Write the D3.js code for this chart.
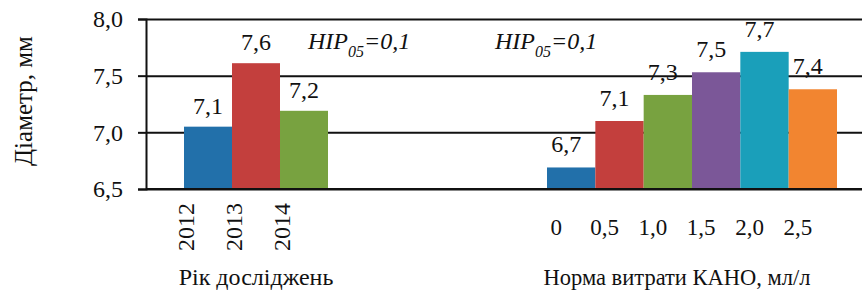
<!DOCTYPE html>
<html>
<head>
<meta charset="utf-8">
<script src="https://cdn.jsdelivr.net/npm/d3@7"></script>
</head>
<body style="margin:0; background:#fff">
<svg id="chart" width="862" height="291"></svg>
<script>
// data
const years = ["2012", "2013", "2014"];
const yearValues = [7.05, 7.61, 7.19];
const yearLabels = ["7,1", "7,6", "7,2"];

const norms = ["0", "0,5", "1,0", "1,5", "2,0", "2,5"];
const normValues = [6.69, 7.10, 7.33, 7.53, 7.71, 7.38];
const normLabels = ["6,7", "7,1", "7,3", "7,5", "7,7", "7,4"];

const yTicks = [6.5, 7.0, 7.5, 8.0];
const yearColors = ["#2270aa", "#c33f3d", "#78a240"];
const normColors = ["#2270aa", "#c33f3d", "#78a240", "#7b5798", "#1a9fba", "#f28530"];

const FONT = 'Liberation Serif';
const INK = '#111';

const svg = d3.select('#chart');
const width = +svg.attr('width');
const margin = { top: 19, right: 0, bottom: 102, left: 146 };
const plotBottom = 291 - margin.bottom;

// scales
const y = d3.scaleLinear().domain([6.5, 8.0]).range([plotBottom, margin.top]);
const xYear = d3.scaleBand().domain(years).range([184, 328]).padding(0);
const xNorm = d3.scaleBand().domain(norms).range([547, 837]).padding(0);

const fmt = d => d.toFixed(1).replace('.', ',');

// grid lines behind bars
svg.append('g')
    .attr('transform', `translate(${margin.left},0)`)
    .call(d3.axisLeft(y).tickValues(yTicks).tickSize(-(width - margin.left)).tickFormat(''))
    .call(g => g.select('.domain').remove())
    .call(g => g.selectAll('line').attr('stroke', INK).attr('stroke-width', 2));

// bars
svg.append('g').selectAll('rect').data(years)
    .join('rect')
    .attr('x', d => xYear(d))
    .attr('y', (d, i) => y(yearValues[i]))
    .attr('width', xYear.bandwidth())
    .attr('height', (d, i) => plotBottom - y(yearValues[i]))
    .attr('fill', (d, i) => yearColors[i]);

svg.append('g').selectAll('rect').data(norms)
    .join('rect')
    .attr('x', d => xNorm(d))
    .attr('y', (d, i) => y(normValues[i]))
    .attr('width', xNorm.bandwidth())
    .attr('height', (d, i) => plotBottom - y(normValues[i]))
    .attr('fill', (d, i) => normColors[i]);

// y axis
svg.append('g')
    .attr('transform', `translate(${margin.left},0)`)
    .call(d3.axisLeft(y).tickValues(yTicks).tickSize(8).tickPadding(15).tickFormat(fmt))
    .call(g => g.select('.domain').attr('stroke', INK).attr('stroke-width', 2))
    .call(g => g.selectAll('line').attr('stroke', INK).attr('stroke-width', 2))
    .call(g => g.selectAll('text').attr('font-size', 24).attr('font-family', FONT).attr('fill', INK));

// bottom line
svg.append('line')
    .attr('x1', margin.left).attr('x2', width)
    .attr('y1', plotBottom).attr('y2', plotBottom)
    .attr('stroke', INK).attr('stroke-width', 2);

// value labels
svg.append('g').selectAll('text').data(years)
    .join('text')
    .attr('x', d => xYear(d) + xYear.bandwidth() / 2)
    .attr('y', (d, i) => y(yearValues[i]) - 13)
    .attr('text-anchor', 'middle')
    .attr('font-family', FONT).attr('fill', INK)
    .attr('font-size', 24)
    .text((d, i) => yearLabels[i]);

svg.append('g').selectAll('text').data(norms)
    .join('text')
    .attr('x', d => xNorm(d) + xNorm.bandwidth() / 2 - 5)
    .attr('y', (d, i) => y(normValues[i]) - 15)
    .attr('text-anchor', 'middle')
    .attr('font-family', FONT).attr('fill', INK)
    .attr('font-size', 24)
    .text((d, i) => normLabels[i]);

// category labels
svg.append('g').selectAll('text').data(years)
    .join('text')
    .attr('transform', d => `translate(${xYear(d) + xYear.bandwidth() / 2 - 22},203) rotate(-90)`)
    .attr('text-anchor', 'end')
    .attr('dy', '0.33em')
    .attr('font-family', FONT).attr('fill', INK)
    .attr('font-size', 24)
    .text(d => d);

svg.append('g').selectAll('text').data(norms)
    .join('text')
    .attr('x', d => xNorm(d) + xNorm.bandwidth() / 2 - 15)
    .attr('y', 235)
    .attr('text-anchor', 'middle')
    .attr('font-family', FONT).attr('fill', INK)
    .attr('font-size', 23)
    .text(d => d);

// LSD notes
const hip = [[308, 49], [495, 49]];
hip.forEach(p => {
    const t = svg.append('text')
        .attr('x', p[0]).attr('y', p[1])
        .attr('font-family', FONT).attr('fill', INK)
        .attr('font-size', 24)
        .attr('font-style', 'italic');
    t.append('tspan').text('HIP');
    t.append('tspan').attr('dy', 8).attr('font-size', 16).text('05');
    t.append('tspan').attr('dy', -8).text('=0,1');
});

// axis titles
svg.append('text')
    .attr('transform', 'translate(32,101) rotate(-90)')
    .attr('text-anchor', 'middle')
    .attr('font-family', FONT).attr('fill', INK)
    .attr('font-size', 25)
    .text('Діаметр, мм');

svg.append('text')
    .attr('x', 256).attr('y', 285)
    .attr('text-anchor', 'middle')
    .attr('font-family', FONT).attr('fill', INK)
    .attr('font-size', 24)
    .text('Рік досліджень');

svg.append('text')
    .attr('x', 677).attr('y', 285)
    .attr('text-anchor', 'middle')
    .attr('font-family', FONT).attr('fill', INK)
    .attr('font-size', 22.5)
    .text('Норма витрати КАНО, мл/л');
</script>
</body>
</html>
